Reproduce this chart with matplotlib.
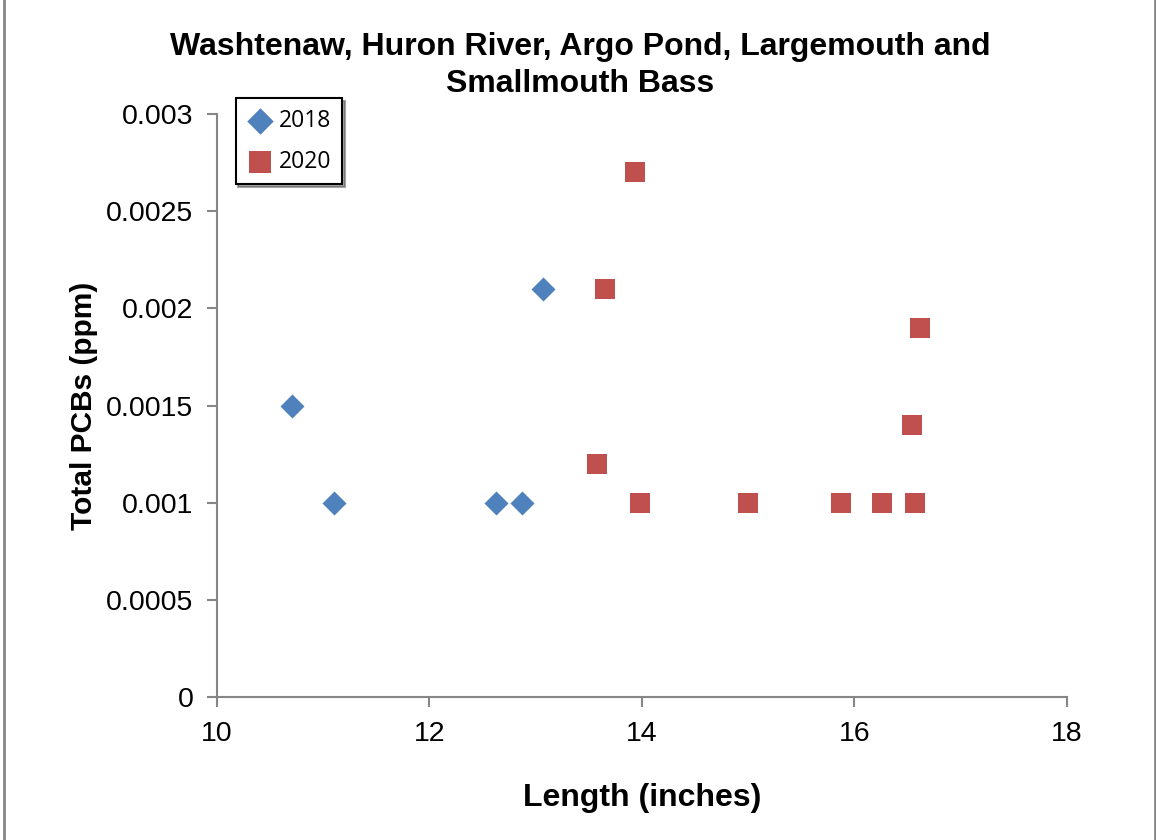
"""Scatter of total PCBs vs fish length, Argo Pond bass."""

import matplotlib.pyplot as plt
from matplotlib.patches import Rectangle

# 2018 samples
len_2018 = [10.71, 11.10, 12.63, 12.87, 13.07]
pcb_2018 = [0.0015, 0.001, 0.001, 0.001, 0.0021]

# 2020 samples
len_2020 = [13.93, 13.65, 13.58, 13.98, 15.0, 15.87, 16.26, 16.57, 16.54, 16.62]
pcb_2020 = [0.0027, 0.0021, 0.0012, 0.001, 0.001, 0.001, 0.001, 0.001, 0.0014, 0.0019]

x_ticks = [10, 12, 14, 16, 18]
y_ticks = [0, 0.0005, 0.001, 0.0015, 0.002, 0.0025, 0.003]
y_tick_labels = ["0", "0.0005", "0.001", "0.0015", "0.002", "0.0025", "0.003"]

BLUE = "#4F81BD"
RED = "#C0504D"
AXIS_GREY = "#868686"

plt.rcParams["font.family"] = ["Liberation Sans", "DejaVu Sans"]

fig = plt.figure(figsize=(11.56, 8.4), dpi=100)
ax = fig.add_axes([0.1877, 0.1702, 0.7353, 0.6941])

ax.scatter(len_2018, pcb_2018, marker="D", s=150, color=BLUE, linewidths=0,
           label="2018", zorder=3)
ax.scatter(len_2020, pcb_2020, marker="s", s=215, color=RED, linewidths=0,
           label="2020", zorder=3)

ax.set_xlim(10, 18)
ax.set_ylim(0, 0.003)
ax.set_xticks(x_ticks)
ax.set_xticklabels([str(t) for t in x_ticks])
ax.set_yticks(y_ticks)
ax.set_yticklabels(y_tick_labels)
ax.tick_params(axis="both", labelsize=20.5, color=AXIS_GREY, length=7,
               width=1.5, direction="out", pad=10)

for side in ["top", "right"]:
    ax.spines[side].set_visible(False)
for side in ["left", "bottom"]:
    ax.spines[side].set_color(AXIS_GREY)
    ax.spines[side].set_linewidth(1.5)

ax.set_xlabel("Length (inches)", fontsize=23, fontweight="bold", labelpad=26)
ax.set_ylabel("Total PCBs (ppm)", fontsize=21.5, fontweight="bold", labelpad=6)

fig.text(0.502, 0.922, "Washtenaw, Huron River, Argo Pond, Largemouth and\nSmallmouth Bass",
         ha="center", va="center", fontsize=23, fontweight="bold", linespacing=1.3)

leg = ax.legend(loc="upper left", bbox_to_anchor=(0.022, 1.027), borderaxespad=0,
                frameon=True, fancybox=False, shadow=True, handletextpad=0.25,
                handlelength=1.2, borderpad=0.45, labelspacing=0.75,
                markerscale=1.1,
                prop={"family": ["Open Sans", "DejaVu Sans"], "size": 16.5})
leg.get_frame().set_edgecolor("black")
leg.get_frame().set_linewidth(1.5)

# outer chart border
fig.patches.append(Rectangle((4 / 1156, -0.01), 1151 / 1156, 1.02,
                             transform=fig.transFigure, fill=False,
                             edgecolor=AXIS_GREY, linewidth=2))

fig.savefig("out.png", dpi=100)
